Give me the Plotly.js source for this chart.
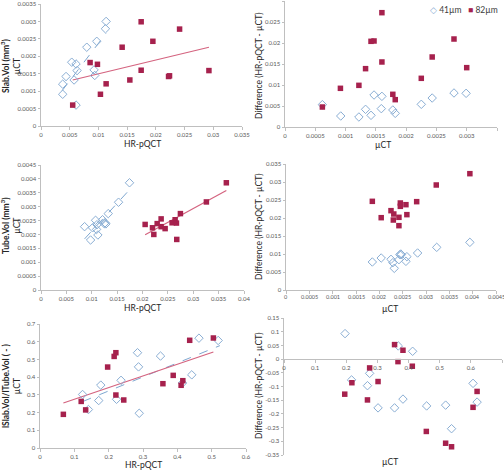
<!DOCTYPE html>
<html><head><meta charset="utf-8">
<script src="https://cdn.plot.ly/plotly-3.0.1.min.js"></script>
<style>html,body{margin:0;padding:0;background:#fff}#c{width:504px;height:470px}</style>
</head><body><div id="c"></div>
<script>
// Panel A: Slab.Vol  (x = HR-pQCT, y = µCT)
const slab41_hr  = [0.00378,0.00378,0.00436,0.00535,0.00610,0.00628,0.00576,0.00610,0.00797,0.00924,0.00936,0.00971,0.01122,0.01134];
const slab41_ct  = [0.00091,0.00120,0.00142,0.00183,0.00178,0.00159,0.00132,0.00060,0.00226,0.00161,0.00145,0.00243,0.00279,0.00300];
const slab82_hr  = [0.00552,0.00855,0.00983,0.01035,0.01134,0.01413,0.01547,0.01744,0.01744,0.01948,0.02221,0.02238,0.02413,0.02924];
const slab82_ct  = [0.00060,0.00182,0.00177,0.00091,0.00121,0.00226,0.00132,0.00299,0.00160,0.00243,0.00142,0.00144,0.00278,0.00159];
const slab41_fitX = [0.00366,0.01134], slab41_fitY = [0.00101,0.00266];
const slab82_fitX = [0.00552,0.02924], slab82_fitY = [0.00132,0.00226];
// Panel B: Slab.Vol difference (x = µCT, y = HR-pQCT - µCT)
const slabD41_ct = [0.000617,0.00092,0.00122,0.00133,0.00142,0.00147,0.00159,0.00160,0.00178,0.00182,0.00225,0.00243,0.00279,0.00299];
const slabD41_d  = [0.00532,0.00262,0.00238,0.00421,0.00278,0.00762,0.00437,0.00730,0.00405,0.00325,0.00540,0.00690,0.00810,0.00802];
const slabD82_ct = [0.000617,0.000915,0.00122,0.00133,0.00142,0.00147,0.00160,0.00160,0.00178,0.00182,0.00225,0.00243,0.00279,0.00300];
const slabD82_d  = [0.00476,0.00921,0.00992,0.01389,0.02040,0.02048,0.02722,0.01548,0.00778,0.00651,0.01159,0.01667,0.02095,0.01413];
// Panel C: Tube.Vol
const tube41_hr = [0.00859,0.00977,0.01016,0.01075,0.01095,0.01102,0.01121,0.01213,0.01246,0.01279,0.01262,0.01325,0.01528,0.01744];
const tube41_ct = [0.00228,0.00180,0.00224,0.00251,0.00218,0.00235,0.00198,0.00253,0.00239,0.00238,0.00242,0.00275,0.00316,0.00386];
const tube82_hr = [0.02052,0.02197,0.02223,0.02289,0.02367,0.02367,0.02446,0.02583,0.02643,0.02669,0.02675,0.02747,0.03259,0.03652];
const tube82_ct = [0.00236,0.00224,0.00200,0.00239,0.00256,0.00228,0.00221,0.00242,0.00253,0.00241,0.00182,0.00275,0.00317,0.00386];
const tube41_fitX = [0.00859,0.01744], tube41_fitY = [0.00184,0.00361];
const tube82_fitX = [0.02052,0.03652], tube82_fitY = [0.00199,0.00358];
// Panel D: Tube.Vol difference
const tubeD41_ct = [0.00185,0.00204,0.00225,0.00229,0.00232,0.00242,0.00244,0.00246,0.00247,0.00257,0.00259,0.00282,0.00323,0.00394];
const tubeD41_d  = [0.00778,0.00889,0.00852,0.00759,0.00602,0.00843,0.00981,0.01000,0.00981,0.00796,0.00926,0.01028,0.01185,0.01324];
const tubeD82_ct = [0.00185,0.00204,0.00225,0.00231,0.00230,0.00242,0.00242,0.00245,0.00245,0.00257,0.00259,0.00280,0.00322,0.00394];
const tubeD82_d  = [0.02463,0.02009,0.02204,0.02111,0.01944,0.02019,0.01787,0.02417,0.02324,0.02370,0.02093,0.02454,0.02917,0.03231];
const tubeD_xTicks = [0,0.0005,0.001,0.0015,0.002,0.0025,0.003,0.0035,0.004,0.0045];
const tubeD_xText  = ['0','0.0005','0.001','0.0015','0.002','0.0025','0.003','0.0035','0.004','0.0045'];
// Panel E: lSlab.Vol/lTube.Vol
const ratio41_hr = [0.124,0.141,0.171,0.177,0.223,0.236,0.284,0.287,0.289,0.351,0.415,0.442,0.463,0.519];
const ratio41_ct = [0.302,0.217,0.268,0.355,0.275,0.382,0.538,0.458,0.196,0.519,0.367,0.413,0.620,0.607];
const ratio82_hr = [0.068,0.120,0.133,0.197,0.216,0.221,0.221,0.244,0.358,0.388,0.411,0.416,0.436,0.505];
const ratio82_ct = [0.190,0.263,0.215,0.457,0.517,0.538,0.299,0.271,0.363,0.410,0.354,0.380,0.608,0.621];
const ratio41_fitX = [0.124,0.524], ratio41_fitY = [0.262,0.578];
const ratio82_fitX = [0.068,0.505], ratio82_fitY = [0.254,0.542];
// Panel F: ratio difference
const ratioD41_ct = [0.196,0.217,0.268,0.275,0.302,0.355,0.367,0.382,0.413,0.458,0.519,0.538,0.607,0.620];
const ratioD41_d  = [0.093,-0.076,-0.097,-0.052,-0.178,-0.178,0.048,-0.146,0.0285,-0.171,-0.168,-0.254,-0.0885,-0.157];
const ratioD82_ct = [0.195,0.218,0.268,0.275,0.302,0.355,0.366,0.382,0.412,0.457,0.519,0.538,0.607,0.620];
const ratioD82_d  = [-0.128,-0.0862,-0.149,-0.0322,-0.0819,0.0529,-0.0092,0.0323,-0.026,-0.264,-0.307,-0.320,-0.176,-0.118];
const ratioD_yTicks = [0.15,0.1,0.05,0,-0.05,-0.1,-0.15,-0.2,-0.25,-0.3,-0.35];
const ratioD_yText  = ['0.15','0.1','0.05','0','-0.05','-0.1','-0.15','-0.2','-0.25','-0.3','-0.35'];

const legendNames = ['41µm','82µm'];
const BLUE = '#8aaed4', RED = '#a6214d', REDLINE = '#d4637f', BLUELINE = '#7ea7d0';

function pts(x,y,xa,ya,which){
  const blue = which===0;
  return {x:x,y:y,xaxis:xa,yaxis:ya,type:'scatter',mode:'markers',name:legendNames[which],showlegend:false,
    marker: blue ? {symbol:'diamond-open',size:6.5,color:BLUE,line:{width:1,color:BLUE}}
                 : {symbol:'square',size:5.5,color:RED,line:{width:0}}};
}
function fit(x,y,xa,ya,which){
  return {x:x,y:y,xaxis:xa,yaxis:ya,type:'scatter',mode:'lines',showlegend:false,hoverinfo:'skip',
    line: which===0 ? {color:BLUELINE,width:1,dash:'dash'} : {color:REDLINE,width:1.2}};
}
const data = [
  fit(slab41_fitX,slab41_fitY,'x','y',0), fit(slab82_fitX,slab82_fitY,'x','y',1),
  pts(slab41_hr,slab41_ct,'x','y',0), pts(slab82_hr,slab82_ct,'x','y',1),
  pts(slabD41_ct,slabD41_d,'x2','y2',0), pts(slabD82_ct,slabD82_d,'x2','y2',1),
  fit(tube41_fitX,tube41_fitY,'x3','y3',0), fit(tube82_fitX,tube82_fitY,'x3','y3',1),
  pts(tube41_hr,tube41_ct,'x3','y3',0), pts(tube82_hr,tube82_ct,'x3','y3',1),
  pts(tubeD41_ct,tubeD41_d,'x4','y4',0), pts(tubeD82_ct,tubeD82_d,'x4','y4',1),
  fit(ratio41_fitX,ratio41_fitY,'x5','y5',0), fit(ratio82_fitX,ratio82_fitY,'x5','y5',1),
  pts(ratio41_hr,ratio41_ct,'x5','y5',0), pts(ratio82_hr,ratio82_ct,'x5','y5',1),
  pts(ratioD41_ct,ratioD41_d,'x6','y6',0), pts(ratioD82_ct,ratioD82_d,'x6','y6',1)
];

const W=504,H=470;
const fx = p=>p/W, fy = p=>1-p/H;
const FAM = 'Lato, "Open Sans", sans-serif';
const tickFont = {family:FAM, size:6, color:'#595959'};
function ax(dom, range, dtick, anchor, extra){
  return Object.assign({domain:dom, range:range, dtick:dtick, tick0:0, anchor:anchor, showgrid:false, zeroline:false,
    showline:true, linecolor:'#bfbfbf', linewidth:1, ticks:'outside', ticklen:2.5, tickcolor:'#bfbfbf',
    tickfont:tickFont, tickangle:0, automargin:false, fixedrange:true}, extra||{});
}
const layout = {
  width:W, height:H, margin:{l:0,r:0,t:0,b:0}, paper_bgcolor:'#fff', plot_bgcolor:'#fff',
  font:{family:FAM, color:'#262626'},
  showlegend:false,
  xaxis: ax([fx(41),fx(242)],[0,0.035],0.005,'y'),
  yaxis: ax([fy(126),fy(4)],[0,0.0035],0.0005,'x'),
  xaxis2: ax([fx(285),fx(497)],[0,0.0035],0.0005,'y2'),
  yaxis2: ax([fy(127),fy(1)],[0,0.03],0.005,'x2'),
  xaxis3: ax([fx(41),fx(244)],[0,0.04],0.005,'y3'),
  yaxis3: ax([fy(290),fy(165)],[0,0.0045],0.0005,'x3'),
  xaxis4: ax([fx(286),fx(496)],[0,0.0045],0.0005,'y4',{showticklabels:false}),
  yaxis4: ax([fy(290),fy(164)],[0,0.035],0.005,'x4'),
  xaxis5: ax([fx(40),fx(246)],[0,0.6],0.1,'y5'),
  yaxis5: ax([fy(448),fy(324)],[0,0.7],0.1,'x5'),
  xaxis6: ax([fx(284),fx(502)],[0,0.7],0.1,'free',{position: fy(455)+ (0.35/0.5)*(fy(318)-fy(455))}),
  yaxis6: ax([fy(455),fy(318)],[-0.35,0.15],0.05,'x6',{tickmode:'array', tickvals:ratioD_yTicks, ticktext:ratioD_yText}),
  annotations: []
};
// tick labels for panel D x axis, placed through the x4 scale
const tickFontD = {family:FAM, size:5.5, color:'#595959'};
tubeD_xTicks.forEach((v,i)=>{
  layout.annotations.push({text:tubeD_xText[i], x:v, xref:'x4', y:fy(297), yref:'paper', showarrow:false,
    xanchor:'center', yanchor:'middle', font:tickFontD, borderpad:0});
});
const tf = {family:FAM, size:8.5, color:'#262626'};
function note(text,x,y,angle,font){
  layout.annotations.push({text:text, x:fx(x), y:fy(y), xref:'paper', yref:'paper', showarrow:false, textangle:angle||0,
    xanchor:'center', yanchor:'middle', font:font||tf});
}
// y titles
note('<b>Slab.Vol (mm<sup>3</sup>)</b><br>µCT', 11, 66, -90);
note('<b>Tube.Vol (mm<sup>3</sup>)</b><br>µCT', 11, 226, -90);
note('<b>lSlab.Vol/lTube.Vol ( - )</b><br>µCT', 11, 386, -90);
note('Difference (HR-pQCT - µCT)', 259, 66, -90);
note('Difference (HR-pQCT - µCT)', 259, 227, -90);
note('Difference (HR-pQCT - µCT)', 259, 386, -90);
// x titles
note('HR-pQCT', 142, 144);
note('µCT', 383, 145);
note('HR-pQCT', 142, 308);
note('µCT', 390, 309);
note('HR-pQCT', 143, 465);
note('µCT', 390, 462);
// legend (top-right panel)
note('<span style="color:'+BLUE+'">◇</span> '+legendNames[0]+'   <span style="color:'+RED+'">■</span> '+legendNames[1], 464, 10, 0, {family:FAM,size:8.5,color:'#404040'});

Plotly.newPlot('c', data, layout, {staticPlot:true, displayModeBar:false});
</script></body></html>
